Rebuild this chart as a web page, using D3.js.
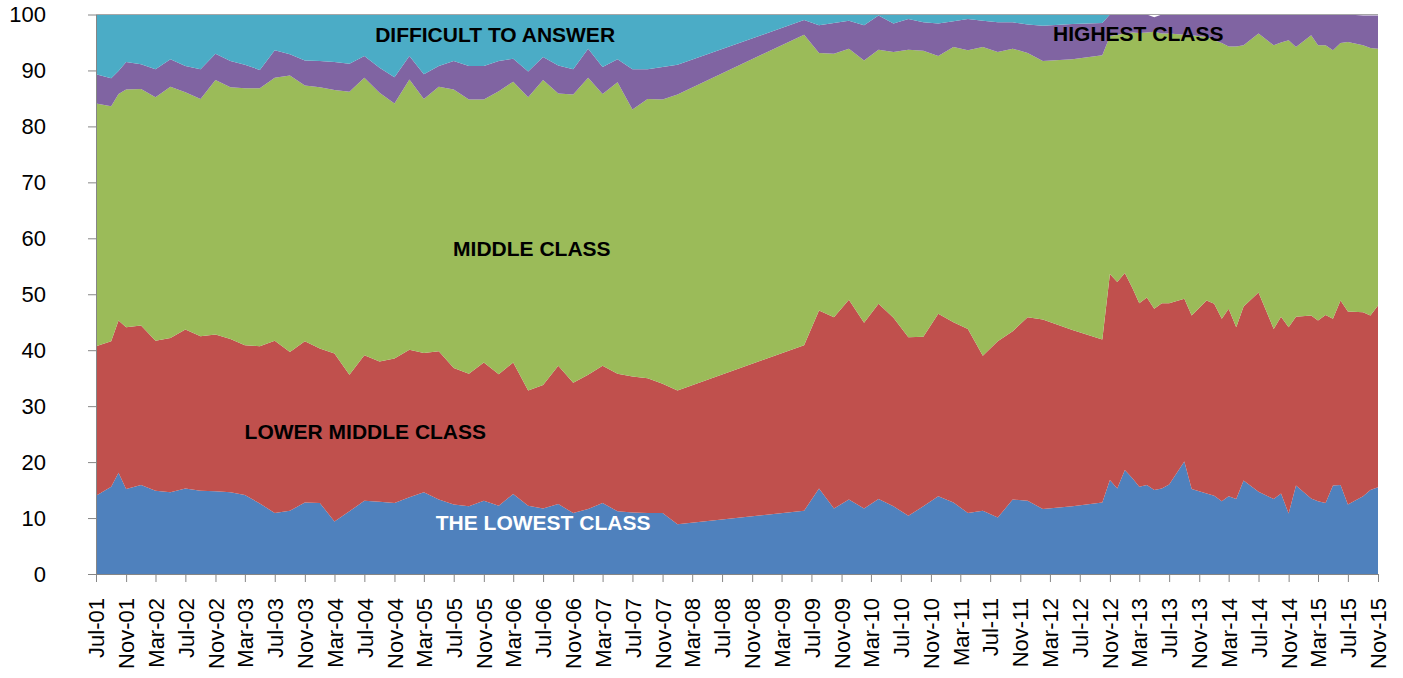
<!DOCTYPE html>
<html>
<head>
<meta charset="utf-8">
<script src="https://cdn.jsdelivr.net/npm/d3@7"></script>
<style>
  html, body { margin: 0; padding: 0; background: #ffffff; }
  svg { display: block; font-family: "Liberation Sans", Arial, sans-serif; }
</style>
</head>
<body>
<script>
// ---------- DATA ----------
const dates = [
  "2001-07","2001-09","2001-10","2001-11","2002-01","2002-03","2002-05","2002-07","2002-09","2002-11",
  "2003-01","2003-03","2003-05","2003-07","2003-09","2003-11","2004-01","2004-03","2004-05","2004-07",
  "2004-09","2004-11","2005-01","2005-03","2005-05","2005-07","2005-09","2005-11","2006-01","2006-03",
  "2006-05","2006-07","2006-09","2006-11","2007-01","2007-03","2007-05","2007-07","2007-09","2007-11",
  "2008-01","2009-06","2009-08","2009-10","2009-12","2010-02","2010-04","2010-06","2010-08","2010-10",
  "2010-12","2011-02","2011-04","2011-06","2011-08","2011-10","2011-12","2012-02","2012-06","2012-10",
  "2012-11","2012-12","2013-01","2013-02","2013-03","2013-04","2013-05","2013-06","2013-07","2013-09",
  "2013-10","2013-12","2014-01","2014-02","2014-03","2014-04","2014-05","2014-07","2014-09","2014-10",
  "2014-11","2014-12","2015-02","2015-03","2015-04","2015-05","2015-06","2015-07","2015-09","2015-10",
  "2015-11"
];

const lowestClass = [
  14.0,15.6,18.1,15.2,15.9,14.9,14.6,15.3,14.9,14.8,
  14.6,14.1,12.6,10.9,11.3,12.8,12.7,9.4,11.2,13.1,
  12.9,12.7,13.7,14.6,13.3,12.4,12.1,13.1,12.2,14.3,
  12.2,11.7,12.5,10.9,11.6,12.7,11.2,11.0,10.9,10.9,
  8.9,11.3,15.3,11.7,13.3,11.7,13.4,12.1,10.4,12.1,
  13.9,12.8,10.9,11.3,10.1,13.3,13.1,11.6,12.1,12.8,
  16.8,15.3,18.6,17.1,15.6,15.9,15.0,15.3,16.0,20.1,
  15.2,14.4,14.0,13.0,13.9,13.4,16.7,14.7,13.4,14.4,
  10.8,15.8,13.5,13.0,12.7,15.8,15.9,12.4,13.9,15.0,
  15.5
];

const lowerMiddleClass = [
  26.7,26.0,27.2,28.9,28.5,26.8,27.6,28.4,27.6,28.0,
  27.4,26.8,28.1,30.8,28.4,28.8,27.6,30.0,24.4,26.0,
  25.1,25.8,26.4,24.9,26.5,24.4,23.7,24.7,23.5,23.5,
  20.6,22.1,24.7,23.3,24.0,24.5,24.6,24.3,24.1,23.1,
  23.9,29.6,31.8,34.2,35.7,33.2,34.9,33.7,31.9,30.3,
  32.6,32.2,32.9,27.7,31.5,30.1,32.8,33.9,31.5,29.1,
  36.8,36.9,35.2,34.0,32.8,33.5,32.4,33.1,32.4,29.1,
  31.0,34.5,34.3,32.6,33.5,30.7,31.1,35.6,30.4,31.6,
  33.3,30.2,32.7,32.3,33.6,29.8,33.0,34.5,32.9,31.2,
  32.5
];

const middleClass = [
  43.4,42.0,40.5,42.5,42.3,43.5,44.9,42.4,42.4,45.5,
  45.0,45.9,46.1,47.0,49.4,45.7,46.7,47.1,50.6,49.6,
  48.0,45.6,48.3,45.4,47.3,49.8,49.0,47.0,50.6,50.2,
  52.4,54.5,48.7,51.5,53.1,48.6,52.1,47.7,49.9,50.8,
  52.9,55.5,46.0,47.1,44.9,46.9,45.4,47.5,51.4,51.1,
  46.1,49.2,49.8,55.2,51.7,50.5,47.2,46.2,48.4,50.8,
  42.5,44.2,42.8,45.7,48.3,47.4,49.5,48.2,48.2,47.2,
  50.1,47.1,47.1,49.3,46.9,50.2,46.7,46.3,50.7,49.0,
  51.3,48.2,50.1,49.2,48.2,48.0,46.0,48.2,47.7,47.8,
  45.9
];

const highestClass = [
  5.2,5.0,4.1,4.9,4.4,5.0,4.9,4.7,5.3,4.7,
  4.7,4.2,3.3,4.9,3.8,4.5,4.7,5.0,5.0,3.9,
  4.5,4.7,4.2,4.4,3.7,5.1,6.0,6.0,5.4,4.1,
  4.6,4.1,5.0,4.5,5.2,4.8,4.1,7.2,5.3,5.8,
  5.3,2.6,5.0,5.5,5.0,6.3,6.1,5.1,5.5,5.1,
  5.8,4.6,5.6,4.7,5.3,4.7,5.1,6.3,6.3,5.8,
  3.9,3.6,3.4,3.2,3.3,3.2,2.6,3.4,3.4,3.6,
  3.7,4.0,4.6,5.1,5.7,5.7,5.5,3.4,5.5,5.0,
  4.6,5.8,3.7,5.5,5.5,6.4,5.1,4.9,5.3,5.8,
  5.9
];

const difficultToAnswer = [
  10.7,11.4,10.1,8.5,8.9,9.8,8.0,9.2,9.8,7.0,
  8.3,9.0,9.9,6.4,7.1,8.2,8.3,8.5,8.8,7.4,
  9.5,11.2,7.4,10.7,9.2,8.3,9.2,9.2,8.3,7.9,
  10.2,7.6,9.1,9.8,6.1,9.4,8.0,9.8,9.8,9.4,
  9.0,1.0,1.9,1.5,1.1,1.9,0.2,1.6,0.8,1.4,
  1.6,1.2,0.8,1.1,1.4,1.4,1.8,2.0,1.7,1.5,
  0,0,0,0,0,0,0,0,0,0,
  0,0,0,0,0,0,0,0,0,0,
  0,0,0,0,0,0,0,0,0,0,
  0
];

const seriesKeys = ["lowest", "lowerMiddle", "middle", "highest", "difficult"];
const seriesColors = ["#4F81BD", "#C0504D", "#9BBB59", "#8064A2", "#4BACC6"];

const xTickLabels = [
  "Jul-01","Nov-01","Mar-02","Jul-02","Nov-02","Mar-03","Jul-03","Nov-03","Mar-04","Jul-04","Nov-04",
  "Mar-05","Jul-05","Nov-05","Mar-06","Jul-06","Nov-06","Mar-07","Jul-07","Nov-07","Mar-08","Jul-08",
  "Nov-08","Mar-09","Jul-09","Nov-09","Mar-10","Jul-10","Nov-10","Mar-11","Jul-11","Nov-11","Mar-12",
  "Jul-12","Nov-12","Mar-13","Jul-13","Nov-13","Mar-14","Jul-14","Nov-14","Mar-15","Jul-15","Nov-15"
];
const yTicks = [0,10,20,30,40,50,60,70,80,90,100];

const areaLabels = [
  { text: "DIFFICULT TO ANSWER", date: "2005-12-17", value: 95.0, color: "#000000" },
  { text: "HIGHEST CLASS",       date: "2013-02-25", value: 95.3, color: "#000000" },
  { text: "MIDDLE CLASS",        date: "2006-05-16", value: 56.8, color: "#000000" },
  { text: "LOWER MIDDLE CLASS",  date: "2004-07-05", value: 24.1, color: "#000000" },
  { text: "THE LOWEST CLASS",    date: "2006-07-01", value: 7.9,  color: "#ffffff" }
];

// ---------- CHART ----------
const W = 1403, H = 678;
const parseMonth = d3.utcParse("%Y-%m");
const parseDay = d3.utcParse("%Y-%m-%d");
const parseTick = d3.utcParse("%b-%y");

const rows = dates.map((d, i) => ({
  date: parseMonth(d),
  lowest: lowestClass[i],
  lowerMiddle: lowerMiddleClass[i],
  middle: middleClass[i],
  highest: highestClass[i],
  difficult: difficultToAnswer[i]
}));

const svg = d3.select("body").append("svg").attr("width", W).attr("height", H);
svg.append("rect").attr("width", W).attr("height", H).attr("fill", "#ffffff");

const x = d3.scaleUtc()
  .domain([parseTick(xTickLabels[0]), parseTick(xTickLabels[xTickLabels.length - 1])])
  .range([96, 1378]);
const y = d3.scaleLinear().domain([0, 100]).range([574, 14.5]);

const stacked = d3.stack().keys(seriesKeys)(rows);
const area = d3.area()
  .x(d => x(d.data.date))
  .y0(d => y(d[0]))
  .y1(d => y(d[1]))
  .curve(d3.curveLinear);

svg.append("g").selectAll("path")
  .data(stacked)
  .join("path")
  .attr("d", area)
  .attr("fill", (d, i) => seriesColors[i])
  .attr("stroke", "none");

// top edge line of plot
svg.append("line")
  .attr("x1", x.range()[0]).attr("x2", x.range()[1])
  .attr("y1", y(100)).attr("y2", y(100))
  .attr("stroke", "#a6a6a6").attr("stroke-width", 1).attr("shape-rendering", "crispEdges");

// area labels
svg.append("g").selectAll("text")
  .data(areaLabels)
  .join("text")
  .attr("x", d => x(parseDay(d.date)))
  .attr("y", d => y(d.value))
  .attr("text-anchor", "middle")
  .attr("font-size", "21px")
  .attr("font-weight", "bold")
  .attr("fill", d => d.color)
  .text(d => d.text);

// axes
const axisColor = "#868686";
const xAxis = d3.axisBottom(x)
  .tickValues(xTickLabels.map(parseTick))
  .tickFormat(d3.utcFormat("%b-%y"))
  .tickSize(8)
  .tickSizeOuter(0);
const gx = svg.append("g").attr("transform", `translate(0,${y(0)})`).call(xAxis);
gx.select(".domain").attr("stroke", axisColor);
gx.selectAll(".tick line").attr("stroke", axisColor);
gx.selectAll(".tick text")
  .attr("transform", "rotate(-90)")
  .attr("text-anchor", "end")
  .attr("x", -24)
  .attr("y", 0)
  .attr("dy", "0.35em")
  .attr("font-size", "22px")
  .attr("font-family", "'Liberation Sans', Arial, sans-serif")
  .attr("fill", "#000");

const yAxis = d3.axisLeft(y)
  .tickValues(yTicks)
  .tickFormat(d3.format("d"))
  .tickSize(8)
  .tickSizeOuter(0)
  .tickPadding(42);
const gy = svg.append("g").attr("transform", `translate(${x.range()[0]},0)`).call(yAxis);
gy.select(".domain").attr("stroke", axisColor);
gy.selectAll(".tick line").attr("stroke", axisColor);
gy.selectAll(".tick text")
  .attr("font-size", "22px")
  .attr("font-family", "'Liberation Sans', Arial, sans-serif")
  .attr("fill", "#000");
</script>
</body>
</html>
